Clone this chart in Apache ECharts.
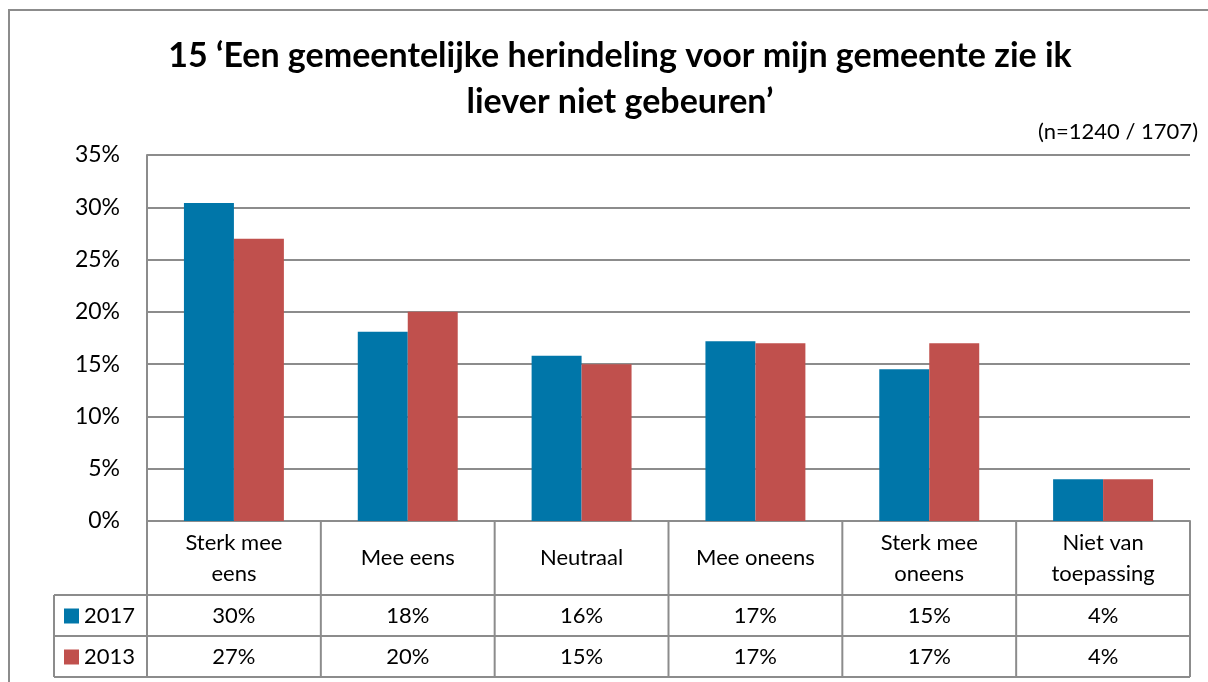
<!DOCTYPE html>
<html>
<head>
<meta charset="utf-8">
<script src="https://cdn.jsdelivr.net/npm/echarts@6/dist/echarts.min.js"></script>
<style>
  html, body { margin: 0; padding: 0; background: #fff; }
  #main { width: 1208px; height: 682px; }
</style>
</head>
<body>
<div id="main"></div>
<script>
// categories (wrapped like the data table header)
var categories = ['Sterk mee\neens', 'Mee eens', 'Neutraal', 'Mee oneens', 'Sterk mee\noneens', 'Niet van\ntoepassing'];
// values
var values2017 = [30.4, 18.1, 15.8, 17.2, 14.5, 4.0];
var values2013 = [27.0, 20.0, 15.0, 17.0, 17.0, 4.0];
// rounded numbers in the table
var table2017 = ['30%', '18%', '16%', '17%', '15%', '4%'];
var table2013 = ['27%', '20%', '15%', '17%', '17%', '4%'];
var seriesNames = ['2017', '2013'];
var colors = ['#0076A9', '#C0504D'];

var FONT = 'Lato, "Open Sans", sans-serif';
var lineCol = '#8c8c8c';

var chart = echarts.init(document.getElementById('main'));

var option = {
    backgroundColor: '#fff',
    animation: false,
    title: {
        text: '15 \u2018Een gemeentelijke herindeling voor mijn gemeente zie ik\nliever niet gebeuren\u2019',
        left: 615,
        textAlign: 'center',
        top: 28,
        textStyle: {
            fontFamily: FONT,
            fontSize: 34,
            fontWeight: 'bold',
            color: '#000',
            lineHeight: 46
        }
    },
    grid: {
        left: 147,
        right: 18,
        top: 155,
        bottom: 161,
        containLabel: false
    },
    xAxis: {
        type: 'category',
        data: categories,
        axisLine: { show: true, lineStyle: { color: lineCol, width: 2 } },
        axisTick: { show: false },
        axisLabel: { show: false },
        splitLine: { show: false }
    },
    yAxis: {
        type: 'value',
        min: 0,
        max: 35,
        interval: 5,
        axisLine: { show: true, lineStyle: { color: lineCol, width: 2 } },
        axisTick: { show: false },
        axisLabel: {
            formatter: '{value}%',
            fontFamily: FONT,
            fontSize: 23,
            color: '#000',
            margin: 27
        },
        splitLine: { show: true, lineStyle: { color: lineCol, width: 2 } }
    },
    series: [
        {
            name: seriesNames[0],
            type: 'bar',
            data: values2017,
            itemStyle: { color: colors[0] },
            barGap: '0%',
            barCategoryGap: '42.5%'
        },
        {
            name: seriesNames[1],
            type: 'bar',
            data: values2013,
            itemStyle: { color: colors[1] },
            barGap: '0%',
            barCategoryGap: '42.5%'
        }
    ]
};
chart.setOption(option);

// data table below the plot, positioned from the axis scale
function buildTable() {
    var x0 = chart.convertToPixel({ xAxisIndex: 0 }, 0);
    var x1 = chart.convertToPixel({ xAxisIndex: 0 }, 1);
    var step = x1 - x0;
    var left = x0 - step / 2;
    var right = left + step * categories.length;
    var yAxisBottom = chart.convertToPixel({ yAxisIndex: 0 }, 0);
    var headerBottom = yAxisBottom + 74;
    var row1Bottom = headerBottom + 41;
    var row2Bottom = row1Bottom + 41;
    var legendLeft = 54;
    var tfont = '22px ' + FONT;

    var els = [];
    var ls = { stroke: lineCol, lineWidth: 2 };
    // outer frame of the chart area
    els.push({ type: 'rect', shape: { x: 9, y: 10, width: 1300, height: 800 }, style: { fill: null, stroke: '#8c8c8c', lineWidth: 2 }, silent: true });
    // horizontal lines
    els.push({ type: 'line', shape: { x1: legendLeft, y1: headerBottom, x2: right, y2: headerBottom }, style: ls });
    els.push({ type: 'line', shape: { x1: legendLeft, y1: row1Bottom, x2: right, y2: row1Bottom }, style: ls });
    els.push({ type: 'line', shape: { x1: legendLeft, y1: row2Bottom, x2: right, y2: row2Bottom }, style: ls });
    els.push({ type: 'line', shape: { x1: right, y1: yAxisBottom, x2: right, y2: row2Bottom }, style: ls });
    els.push({ type: 'line', shape: { x1: left, y1: yAxisBottom, x2: left, y2: row2Bottom }, style: ls });
    els.push({ type: 'line', shape: { x1: legendLeft, y1: headerBottom, x2: legendLeft, y2: row2Bottom }, style: ls });

    for (var i = 0; i < categories.length; i++) {
        var cx = chart.convertToPixel({ xAxisIndex: 0 }, i);
        if (i > 0) {
            var bx = left + step * i;
            els.push({ type: 'line', shape: { x1: bx, y1: yAxisBottom, x2: bx, y2: row2Bottom }, style: ls });
        }
        els.push({
            type: 'text', x: cx, y: (yAxisBottom + headerBottom) / 2,
            style: { text: categories[i], fill: '#000', font: tfont, align: 'center', verticalAlign: 'middle', lineHeight: 31 }
        });
        els.push({
            type: 'text', x: cx, y: (headerBottom + row1Bottom) / 2,
            style: { text: table2017[i], fill: '#000', font: tfont, align: 'center', verticalAlign: 'middle' }
        });
        els.push({
            type: 'text', x: cx, y: (row1Bottom + row2Bottom) / 2,
            style: { text: table2013[i], fill: '#000', font: tfont, align: 'center', verticalAlign: 'middle' }
        });
    }
    // legend keys in the table
    var rowMids = [(headerBottom + row1Bottom) / 2, (row1Bottom + row2Bottom) / 2];
    for (var s = 0; s < seriesNames.length; s++) {
        els.push({ type: 'rect', shape: { x: 64, y: rowMids[s] - 7, width: 15, height: 15 }, style: { fill: colors[s] } });
        els.push({
            type: 'text', x: 84, y: rowMids[s],
            style: { text: seriesNames[s], fill: '#000', font: tfont, align: 'left', verticalAlign: 'middle' }
        });
    }
    // sample size note
    els.push({
        type: 'text', x: 1198, y: 132,
        style: { text: '(n=1240 / 1707)', fill: '#000', font: '22px ' + FONT, align: 'right', verticalAlign: 'middle' }
    });

    chart.setOption({ graphic: { elements: els } });
}
buildTable();
</script>
</body>
</html>
